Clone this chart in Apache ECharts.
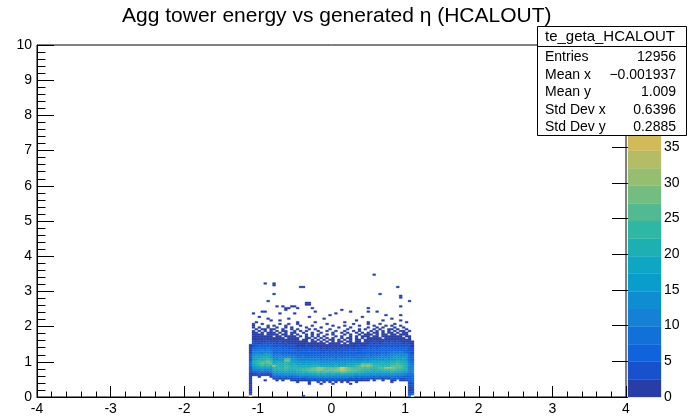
<!DOCTYPE html>
<html><head><meta charset="utf-8">
<script src="https://cdn.jsdelivr.net/npm/echarts@6/dist/echarts.min.js"></script>
<style>html,body{margin:0;padding:0;background:#fff}#c{width:690px;height:417px}</style>
</head><body><div id="c"></div>
<script>
// ---------------- data ----------------
const titleText = "Agg tower energy vs generated \u03b7 (HCALOUT)";
const xRange = [-4, 4];
const yRange = [0, 10];
const xTicks = [-4, -3, -2, -1, 0, 1, 2, 3, 4];
const yTicks = [0, 1, 2, 3, 4, 5, 6, 7, 8, 9, 10];
const zTicks = [0, 5, 10, 15, 20, 25, 30, 35, 40, 45];
const zMax = 49.3;
const nContours = 20;
const xFirstEdge = -1.12;   // lower edge of first column in the count rows
const xBinWidth = 0.04;
const yBinWidth = 0.05;
// bin counts, one string per y bin, top row first (row 0 = y 3.45..3.50)
// '.'=0, 1-9, a..z = 10..35, A..Z = 36..61 ; 56 columns from x=-1.12 to 1.12
const countRows = [
"........ ........ ........ ........ ........ ..1..... ........",
"........ ........ ........ ........ ........ ........ ........",
"........ ........ ........ ........ ........ ........ ........",
"........ ........ ........ ........ ........ ........ ........",
"........ ........ ........ ........ ........ ........ ........",
".....1.. 1....... ........ ........ ........ ........ ........",
"........ 1....... ........ ........ ........ ........ ........",
"........ ........ .11..... ........ ........ ........ ..1.....",
"........ ........ ........ ........ ........ ........ ........",
"........ ........ ........ ........ ........ ........ ........",
"........ ........ ........ ........ ........ ........ ........",
"........ 1....... ........ ........ ........ ....1... ........",
"........ ........ ........ ........ ........ ........ ...1....",
"........ ........ ........ ........ ........ ........ ...1....",
"........ ........ ........ ........ ........ ........ ........",
"......1. ........ ........ ........ ........ ........ ......1.",
"........ ........ ...21... ........ ........ ........ ........",
"........ ........ ...12... ........ ........ ........ ........",
"........ .1.1..11 ........ ........ ........ ........ ...1....",
"........ ....22.. 1....1.. ........ ........ 1....... ........",
"........ ....1... ........ .......1 ........ ........ ........",
"....11.. ........ ......1. ........ ..1..... 1..1.... ........",
".1...... ..1....1 ........ .....1.. ........ ........ ........",
"........ ........ ........ ...1.... ........ ......1. ...1....",
"...1.... ........ ....1... ........ ......1. ........ ........",
"......1. .....1.. ........ .1...... ........ ........ 1.......",
".......1 ..1..... ........ ........ ....1... .....1.. ...1....",
"..1..... ........ 1.....1. ........ 1....... 1....... .....1..",
".1..1... ..1..1.. 1....... ..1..... ...1.... 1...1... .1......",
".1....1. 1...1... .1...1.. ....1... 1....1.. ..1...1. 1..1....",
".1.1..1. .1..1.1. ...1.... 1.....1. ..1..... 1..1.1.. .1..1...",
"..1.11.1 1..1..1. 1...1.1. ...1.... .1...1.1 ..1.1..1 1.1..1..",
".1.1.1.1 .1.11..1 .1.1...1 ..1..1.. 1..1.1.. .1.1.1.1 .1.11.1.",
".11.1.11 1.1.1.11 ..1..1.. 1...1..1 .1..1.1. 1.11.1.1 1.1.11..",
".1112.11 11.11.1. 1..1.1.1 ..1.1... 1.1..1.1 11.1.11. 11.111..",
".1211211 .11.1111 .1.1.1.1 .1...1.1 ..1.1.11 1.11.111 1211.11.",
".2122121 1211.121 1..11.1. 1.1.1..1 .11.1.1. 11211.12 12121.1.",
".2212322 21121212 1.11.1.1 .1.11.1. 1.1.11.1 21212121 2212211.",
".3232232 22322121 1211.12. 1.1.1.11 .11.21.1 22312232 32322212",
".3323433 32323222 12121112 11.1111. 2.121212 23232333 43332321",
"14354545 34342333 22232122 12121212 21212322 33433434 34443432",
"14565656 44534343 23233232 21223232 32323333 44344545 45454532",
"27686787 55645444 33434343 23232323 43434344 54545656 56565543",
"2898a9a8 66756555 44545444 33434343 44545455 65656767 67676543",
"2abacbcb 77867666 55656555 44545454 55656566 76767878 8a9a9654",
"3cdecfde 89978777 66767666 55656565 66767677 87878989 abcbca64",
"3egfhgif 9aa89a88 77877777 66767676 77878888 98989a9a cdedce75",
"3gihjkig bcbdcbab 88988988 77878787 88989999 a9abaabb efgegd76",
"4hjlkmnl dcfeqrfe bcacbbab 9a9aa9ab abbcbcbd cdcedefd ghihif87",
"4jlnmoqn fghgtsgf dcedcdcd bcbcbbcc cdcdedef efgfghgf ijkjih97",
"5kmoqpsr hjkjmlih fgegfgfg ededfdef efgfhgij hijijkji lmnlkj98",
"5jlnponq klmknljk hihjhiij ghghgihh hijikltr sqlmklkl nopnmka8",
"5hjlnmol xnmlonlk kjlkjkkl ijijhkjj jklmnpuv utnonmnm pqrpnlab",
"4eghigjh mlnmpomn mnlonprw vtqrqrsB zsrqpqpo ponopqwx vsqpnmbc",
"4abcdcdc lkmlnmlm noprqstu usrtstuC ytsrqpon nmlmnopo qponmkbc",
"3789a98a ihjikjij lmnoprqs rqsrqstw usrqponm lkjkjlkl nmlkjiab",
"23454545 efgfhgfg ijkjlmln mnlmnlmo nmlkjkji hghgfhgf ihgfed9a",
"21231212 a9cbdcbc efgfhghi hihgihgi hgfgefed dcdcbdcb edcba987",
"1..1...1 57687879 9ab9cbcd cbdcbcdc cbab9a98 98787868 98786778",
"2....... 23232434 45465656 67676576 56454545 43434232 54543567",
"1....1.. .1.1..11 12121323 23232322 21212121 1.1..1.. 21.12456",
"1....... ........ 1...1..1 .1.1.1.1 .1..1... ........ 1.....45",
"1....... ........ ....1... 1...1... ..1..... ........ ......34",
"1....... ........ ........ ........ ........ ........ ......33",
"1....... ........ ........ ........ ........ ........ ......23",
"2....... ........ ........ ........ ........ ........ ......32",
"1....... ........ ........ ........ ........ ........ ......23",
"2....... ........ ........ ........ ........ ........ ......34",
"3....... ........ ........ ........ ........ ........ ......45",
"K....... ........ ..1..... ........ ........ ........ ......8M"
];
const statsTitle = "te_geta_HCALOUT";
const statsLabels = ["Entries", "Mean x", "Mean y", "Std Dev x", "Std Dev y"];
const statsValues = ["12956", "\u22120.001937", "1.009", "0.6396", "0.2885"];

// ---------------- build ----------------
function decode(c) {
  if (c === '.') return 0;
  if (c >= '0' && c <= '9') return c.charCodeAt(0) - 48;
  if (c >= 'a' && c <= 'z') return c.charCodeAt(0) - 87;
  if (c >= 'A' && c <= 'Z') return c.charCodeAt(0) - 65 + 36;
  return 0;
}
const cells = [];
countRows.forEach((row, k) => {
  const s = row.replace(/ /g, '');
  if (s.length !== 56) throw new Error('row ' + k + ' has length ' + s.length);
  const j = countRows.length - 1 - k;
  for (let i = 0; i < s.length; i++) {
    const v = decode(s[i]);
    if (v > 0) cells.push([+(xFirstEdge + i * xBinWidth).toFixed(4), +(j * yBinWidth).toFixed(4), v]);
  }
});

// ROOT kBird palette
const birdStops = [0.0, 0.125, 0.25, 0.375, 0.5, 0.625, 0.75, 0.875, 1.0];
const birdR = [0.2082, 0.0592, 0.0780, 0.0232, 0.1802, 0.5301, 0.8186, 0.9956, 0.9764];
const birdG = [0.1664, 0.3599, 0.5041, 0.6419, 0.7178, 0.7492, 0.7328, 0.7862, 0.9832];
const birdB = [0.5293, 0.8684, 0.8385, 0.7914, 0.6425, 0.4662, 0.3499, 0.1968, 0.0539];
function birdColor(f) {
  let s = 0;
  while (s < birdStops.length - 2 && f > birdStops[s + 1]) s++;
  const t = (f - birdStops[s]) / (birdStops[s + 1] - birdStops[s]);
  const c = a => Math.round(255 * (a[s] + (a[s + 1] - a[s]) * t));
  return 'rgb(' + c(birdR) + ',' + c(birdG) + ',' + c(birdB) + ')';
}
const bandColors = [];
for (let i = 0; i < nContours; i++) {
  const k = Math.floor((i + 0.99) * 255 / nContours);
  bandColors.push(birdColor(Math.min(1, k / 254)));
}
function colorFor(v) {
  let b = Math.floor(0.01 + v * nContours / zMax);
  if (b >= nContours) b = nContours - 1;
  return bandColors[b];
}
const bands = [];
for (let i = 0; i < nContours; i++) bands.push([i * zMax / nContours, (i + 1) * zMax / nContours, i]);

const FONT = '"Liberation Sans", Arial, Helvetica, sans-serif';
const chart = echarts.init(document.getElementById('c'), null, { renderer: 'canvas' });

const statsGraphics = [
  { type: 'rect', z: 100, shape: { x: 537.5, y: 26.5, width: 149, height: 109 }, style: { fill: '#fff', stroke: '#000', lineWidth: 1 } },
  { type: 'line', z: 101, shape: { x1: 537.5, y1: 46.5, x2: 686.5, y2: 46.5 }, style: { stroke: '#000', lineWidth: 1 } },
  { type: 'text', z: 101, x: 610, y: 37, style: { text: statsTitle, font: '15px ' + FONT, fill: '#000', align: 'center', verticalAlign: 'middle' } }
];
statsLabels.forEach((lab, k) => {
  const y = 57.5 + k * 17.4;
  statsGraphics.push({ type: 'text', z: 101, x: 545, y: y, style: { text: lab, font: '14px ' + FONT, fill: '#000', align: 'left', verticalAlign: 'middle' } });
  statsGraphics.push({ type: 'text', z: 101, x: 676, y: y, style: { text: statsValues[k], font: '14px ' + FONT, fill: '#000', align: 'right', verticalAlign: 'middle' } });
});

chart.setOption({
  animation: false,
  backgroundColor: '#fff',
  title: { text: titleText, left: 117, top: 1, textStyle: { fontSize: 21, fontWeight: 'normal', color: '#000', fontFamily: FONT } },
  grid: [
    { left: 37, top: 45, width: 589, height: 352, show: true, borderColor: '#000', borderWidth: 1, backgroundColor: 'transparent', outerBoundsMode: 'none' },
    { left: 628, top: 45, width: 33, height: 352, show: false, outerBoundsMode: 'none' }
  ],
  xAxis: [
    {
      type: 'value', gridIndex: 0, min: xRange[0], max: xRange[1], interval: 1,
      axisLine: { show: true, onZero: false, lineStyle: { color: '#000', width: 1 } },
      splitLine: { show: false },
      axisTick: { show: true, inside: true, length: 11, lineStyle: { color: '#000', width: 1 } },
      minorTick: { show: true, splitNumber: 5, length: 5.5, lineStyle: { color: '#000', width: 1 } },
      axisLabel: { color: '#000', fontSize: 14, fontFamily: FONT, margin: 5,
        formatter: v => xTicks.indexOf(v) >= 0 ? String(v) : '' }
    },
    { type: 'value', gridIndex: 1, min: 0, max: 1, show: false }
  ],
  yAxis: [
    {
      type: 'value', gridIndex: 0, min: yRange[0], max: yRange[1], interval: 1,
      axisLine: { show: true, onZero: false, lineStyle: { color: '#000', width: 1 } },
      splitLine: { show: false },
      axisTick: { show: true, inside: true, length: 17, lineStyle: { color: '#000', width: 1 } },
      minorTick: { show: true, splitNumber: 5, length: 8.5, lineStyle: { color: '#000', width: 1 } },
      axisLabel: { color: '#000', fontSize: 14, fontFamily: FONT, margin: 5,
        formatter: v => yTicks.indexOf(v) >= 0 ? String(v) : '' }
    },
    {
      type: 'value', gridIndex: 1, min: 0, max: zMax, interval: 5, position: 'right',
      axisLine: { show: false },
      splitLine: { show: false },
      axisTick: { show: true, inside: true, length: 16, lineStyle: { color: '#000' } },
      axisLabel: { color: '#000', fontSize: 14, fontFamily: FONT, margin: 3,
        formatter: v => zTicks.indexOf(v) >= 0 ? String(v) : '' }
    }
  ],
  series: [
    {
      type: 'custom', xAxisIndex: 0, yAxisIndex: 0, data: cells, clip: true, z: 1,
      renderItem: (params, api) => {
        const x = api.value(0), y = api.value(1), v = api.value(2);
        const p0 = api.coord([x, y + yBinWidth]);
        const p1 = api.coord([x + xBinWidth, y]);
        const col = colorFor(v);
        return { type: 'rect', shape: { x: p0[0], y: p0[1], width: p1[0] - p0[0], height: p1[1] - p0[1] },
                 style: { fill: col, stroke: col, lineWidth: 0.3 } };
      }
    },
    {
      type: 'custom', xAxisIndex: 1, yAxisIndex: 1, data: bands, z: 1,
      renderItem: (params, api) => {
        const lo = api.value(0), hi = api.value(1), i = api.value(2);
        const p0 = api.coord([0, hi]);
        const p1 = api.coord([1, lo]);
        return { type: 'rect', shape: { x: p0[0], y: p0[1], width: p1[0] - p0[0], height: p1[1] - p0[1] },
                 style: { fill: bandColors[i], stroke: bandColors[i], lineWidth: 0.3 } };
      }
    }
  ],
  graphic: statsGraphics
});
</script>
</body></html>
